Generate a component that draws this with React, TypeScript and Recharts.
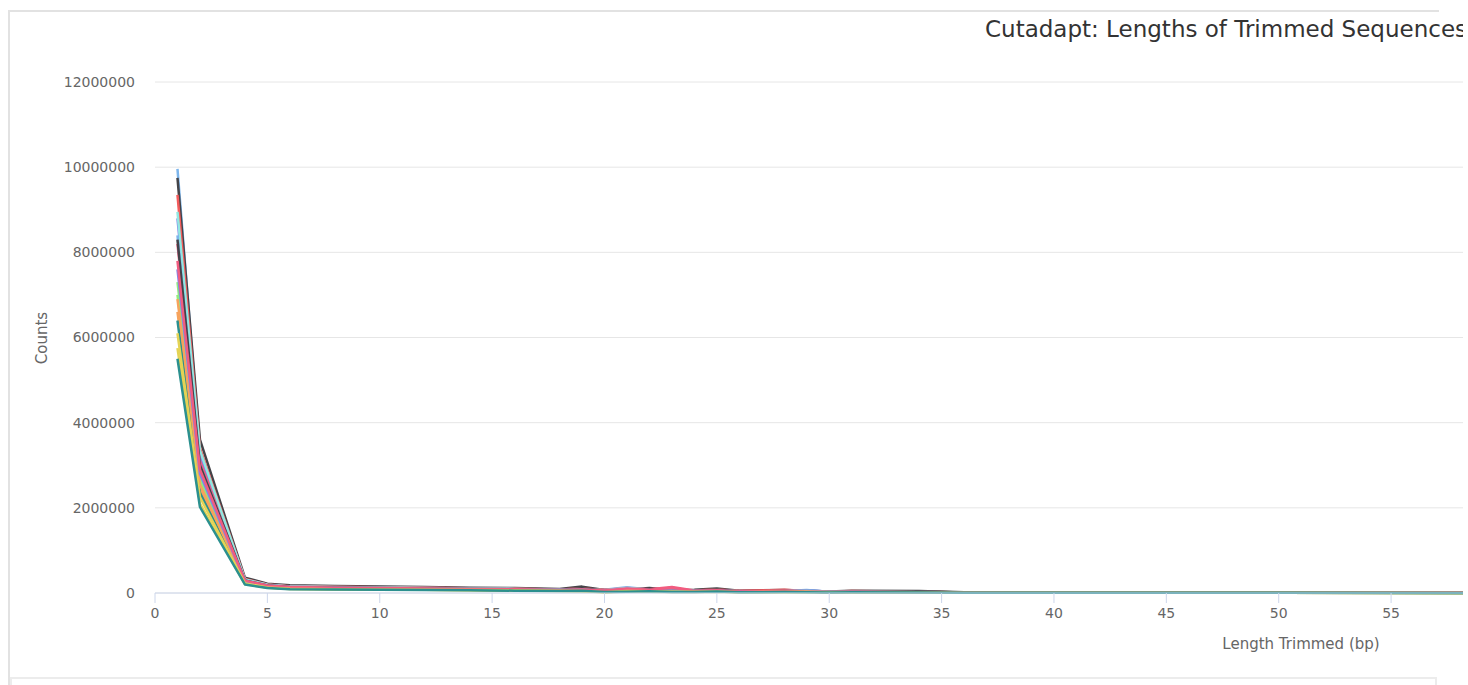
import { LineChart, Line, XAxis, YAxis, CartesianGrid } from 'recharts'

// trimmed length (bp) for each row of the cutadapt table
const LENGTHS = [1, 2, 4, 5, 6, 8, 10, 12, 14, 16, 18, 19, 20, 21, 22, 23, 24, 25, 26, 28, 29, 30, 31, 34, 36, 40, 50, 60]

// read counts per sample, in thousands
const S01 = [9960, 3350, 320, 195, 160, 140, 130, 120, 110, 100, 85, 100, 75, 135, 85, 60, 55, 70, 45, 45, 70, 30, 35, 25, 12, 8, 5, 3]
const S02 = [9750, 3600, 360, 220, 180, 165, 150, 140, 125, 115, 95, 150, 70, 85, 120, 70, 75, 105, 55, 70, 50, 35, 50, 45, 15, 10, 6, 4]
const S03 = [7000, 2600, 260, 150, 118, 106, 98, 90, 82, 74, 62, 70, 45, 75, 60, 42, 40, 50, 30, 35, 40, 20, 25, 18, 9, 6, 4, 3]
const S04 = [6600, 2450, 245, 140, 110, 100, 92, 85, 77, 70, 58, 65, 42, 70, 55, 38, 36, 46, 27, 32, 36, 18, 22, 15, 8, 5, 3, 2]
const S05 = [8800, 3200, 310, 190, 150, 135, 125, 115, 103, 93, 78, 90, 65, 110, 80, 55, 50, 70, 40, 45, 65, 28, 35, 25, 12, 8, 5, 3]
const S06 = [8200, 3100, 310, 190, 150, 135, 125, 115, 105, 95, 82, 100, 70, 120, 90, 140, 60, 75, 45, 60, 40, 30, 35, 25, 12, 8, 5, 3]
const S07 = [5750, 2100, 210, 122, 95, 86, 80, 74, 66, 58, 46, 40, 15, 35, 30, 25, 22, 30, 15, 20, 20, 12, 15, 10, 5, 4, 3, 2]
const S08 = [6400, 2350, 235, 135, 105, 96, 88, 82, 74, 66, 55, 62, 40, 65, 52, 36, 34, 44, 26, 30, 34, 18, 22, 15, 8, 5, 3, 2]
const S09 = [9350, 3400, 330, 200, 160, 145, 135, 125, 112, 100, 85, 105, 70, 95, 90, 60, 60, 80, 45, 75, 45, 30, 45, 30, 12, 8, 5, 3]
const S10 = [8950, 3350, 320, 195, 155, 140, 130, 118, 106, 96, 80, 95, 65, 120, 80, 55, 55, 70, 40, 45, 55, 30, 35, 25, 12, 8, 5, 3]
const S11 = [8400, 3000, 300, 180, 145, 130, 120, 110, 100, 90, 75, 88, 60, 100, 75, 50, 50, 65, 38, 40, 55, 26, 32, 22, 10, 7, 5, 3]
const S12 = [8300, 3000, 295, 175, 140, 125, 115, 105, 95, 88, 72, 110, 55, 70, 95, 45, 50, 85, 35, 45, 35, 25, 40, 35, 10, 7, 5, 3]
const S13 = [7300, 2700, 270, 160, 125, 112, 104, 95, 86, 78, 65, 75, 50, 85, 65, 45, 42, 55, 32, 38, 45, 22, 28, 18, 9, 6, 4, 3]
const S14 = [6900, 2550, 255, 148, 115, 104, 96, 88, 80, 72, 60, 68, 44, 72, 58, 40, 38, 48, 28, 34, 38, 20, 24, 16, 8, 6, 4, 3]
const S15 = [7600, 2800, 280, 165, 130, 118, 108, 100, 90, 82, 68, 80, 55, 95, 70, 50, 45, 60, 35, 40, 50, 24, 30, 20, 10, 7, 4, 3]
const S16 = [7800, 2900, 290, 175, 140, 125, 115, 105, 96, 86, 72, 85, 58, 105, 75, 125, 50, 62, 36, 50, 35, 25, 30, 20, 10, 7, 4, 3]
const S17 = [6100, 2250, 225, 128, 100, 90, 84, 78, 70, 62, 50, 45, 20, 45, 40, 35, 28, 35, 20, 25, 28, 15, 18, 12, 6, 4, 3, 2]
const S18 = [5500, 2020, 200, 115, 90, 82, 76, 70, 62, 55, 45, 55, 25, 30, 40, 22, 25, 38, 18, 22, 20, 12, 18, 12, 6, 4, 3, 2]

const SAMPLES = [S01, S02, S03, S04, S05, S06, S07, S08, S09, S10, S11, S12, S13, S14, S15, S16, S17, S18]

const X_TICKS = [0, 5, 10, 15, 20, 25, 30, 35, 40, 45, 50, 55]
const Y_TICKS = [0, 2000000, 4000000, 6000000, 8000000, 10000000, 12000000]

const PALETTE = ['#7cb5ec', '#434348', '#90ed7d', '#f7a35c', '#8085e9', '#f15c80', '#e4d354', '#2b908f', '#f45b5b', '#91e8e1']

const FONT = '"DejaVu Sans", Verdana, sans-serif'

const keyFor = (i: number) => `s${String(i + 1).padStart(2, '0')}`

const chartData = LENGTHS.map((len, row) => {
  const point: Record<string, number> = { length: len }
  SAMPLES.forEach((counts, i) => {
    point[keyFor(i)] = counts[row] * 1000
  })
  return point
})

export default function App() {
  return (
    <div style={{ position: 'absolute', left: 0, top: 0, width: 1468, height: 685, overflow: 'hidden', background: '#fff', fontFamily: FONT }}>
      {/* panel frame */}
      <div style={{ position: 'absolute', left: 8, top: 10, width: 1429, height: 700, borderLeft: '2px solid #e2e2e2', borderTop: '2px solid #e2e2e2' }} />
      <div style={{ position: 'absolute', left: 10, top: 677, width: 1423, height: 30, border: '2px solid #ececec' }} />

      <div style={{ position: 'absolute', left: 0, top: 0 }}>
        <LineChart width={1463} height={685} data={chartData} margin={{ top: 82, right: 0, bottom: 52, left: 0 }}>
          <CartesianGrid vertical={false} stroke="#e6e6e6" />
          <XAxis
            dataKey="length"
            type="number"
            domain={[0, 58.2]}
            ticks={X_TICKS}
            allowDataOverflow
            height={40}
            stroke="#ccd6eb"
            tickSize={10}
            tickMargin={5}
            tick={{ fill: '#666666', fontSize: 14, fontFamily: FONT }}
          />
          <YAxis
            type="number"
            domain={[0, 12000000]}
            ticks={Y_TICKS}
            width={155}
            axisLine={false}
            tickLine={false}
            tickSize={0}
            tickMargin={20}
            tick={{ fill: '#666666', fontSize: 14, fontFamily: FONT }}
          />
          {SAMPLES.map((_, i) => (
            <Line
              key={keyFor(i)}
              dataKey={keyFor(i)}
              type="linear"
              stroke={PALETTE[i % PALETTE.length]}
              strokeWidth={2.5}
              strokeLinejoin="round"
              dot={false}
              isAnimationActive={false}
            />
          ))}
        </LineChart>
      </div>

      {/* titles */}
      <svg width={1463} height={685} style={{ position: 'absolute', left: 0, top: 0, pointerEvents: 'none', overflow: 'hidden' }}>
        <text x={985} y={37} fill="#333333" fontSize={23} fontFamily={FONT}>
          Cutadapt: Lengths of Trimmed Sequences
        </text>
        <text x={1301} y={644} fill="#666666" fontSize={15} fontFamily={FONT} textAnchor="middle" dominantBaseline="central">
          Length Trimmed (bp)
        </text>
        <text x={42} y={338} fill="#666666" fontSize={15} fontFamily={FONT} textAnchor="middle" dominantBaseline="central" transform="rotate(-90 42 338)">
          Counts
        </text>
      </svg>
    </div>
  )
}
